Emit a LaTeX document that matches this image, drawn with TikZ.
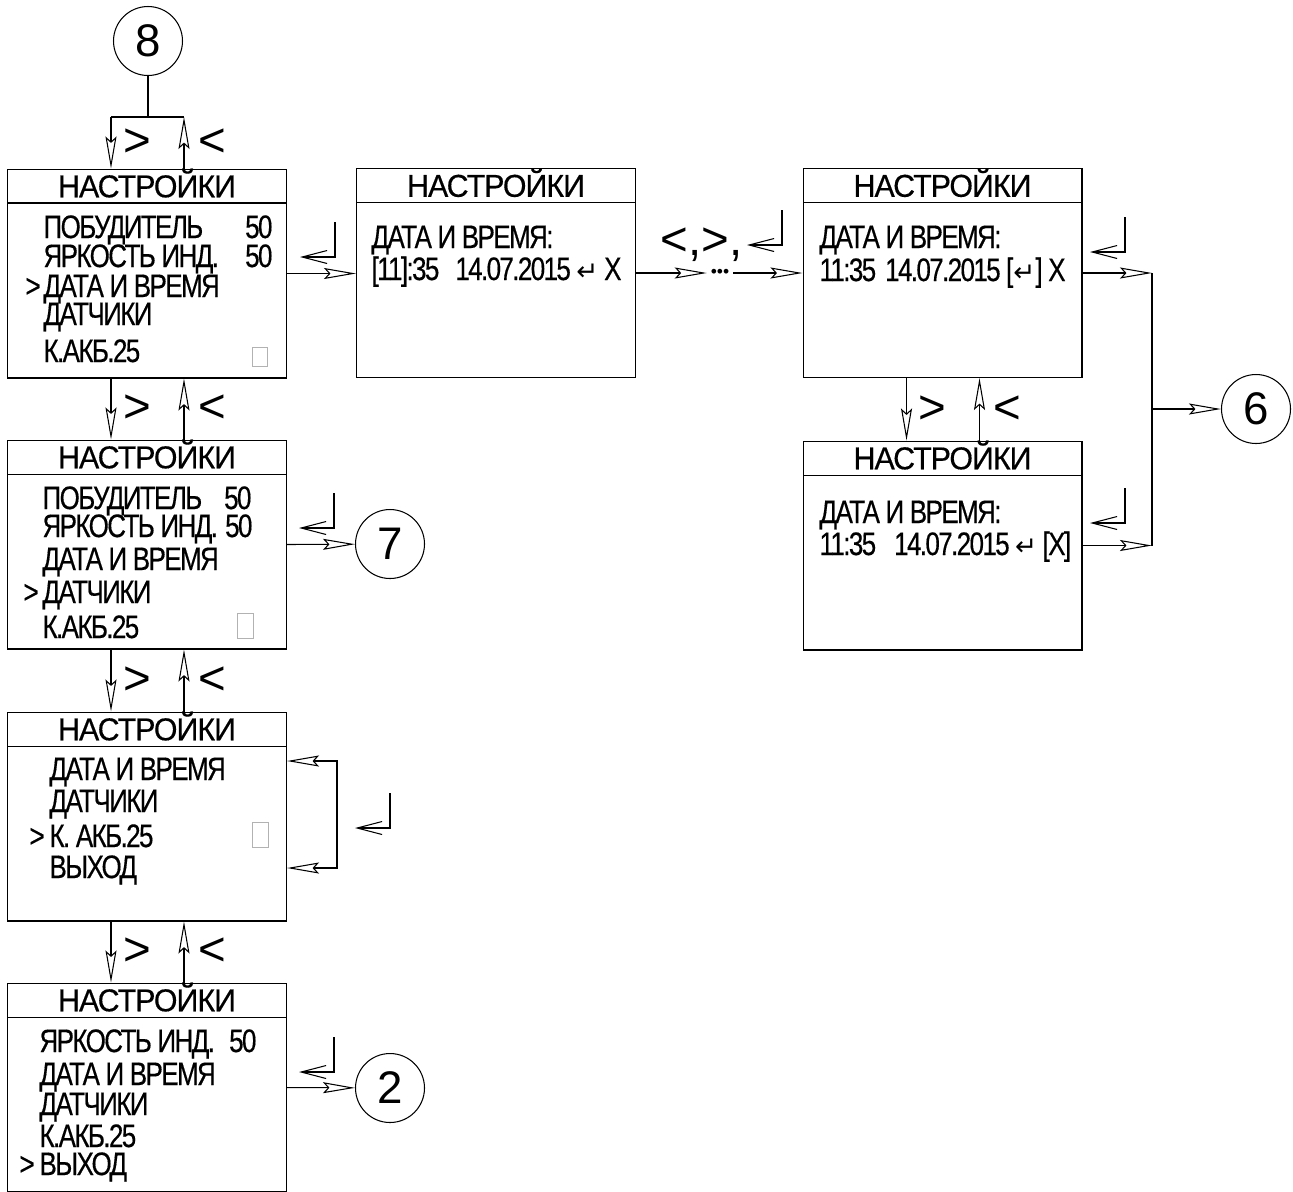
\documentclass[tikz,border=0pt]{standalone}
\usepackage{fontspec}
\setmainfont{Liberation Sans}
\newfontfamily\scrfont[FakeStretch=0.8, LetterSpace=-5, FakeBold=0.4]{Liberation Sans}
\newfontfamily\hdfont[FakeStretch=0.96, LetterSpace=-3, FakeBold=0.4]{Liberation Sans}
\newfontfamily\arrfont{DejaVu Sans}
\usetikzlibrary{arrows.meta,positioning}
\newcommand{\entr}{{\arrfont\fontsize{15}{15}\selectfont ↵}}

\begin{document}
\begin{tikzpicture}[x=0.02cm, y=-0.02cm, line width=0.6pt,
    screen/.style={rectangle, draw, minimum width=5.58cm, minimum height=4.18cm,
                   inner sep=0},
    hdr/.style={rectangle, draw, anchor=north, minimum width=5.58cm,
                minimum height=0.68cm, inner sep=0, text height=0.45cm,
                text depth=0pt, font=\hdfont\fontsize{18}{20}\selectfont},
    row/.style={anchor=base west, inner sep=0,
                font=\scrfont\fontsize{18.5}{20}\selectfont},
    val/.style={row, anchor=base east},
    key/.style={inner sep=0, font=\fontsize{27}{30}\selectfont},
    num/.style={circle, draw, minimum size=1.38cm, inner sep=0,
                font=\fontsize{26}{28}\selectfont},
    nav/.style={-{Stealth[open, length=0.64cm, width=0.22cm, inset=0.1cm]}},
    navboth/.style={{Stealth[open, length=0.64cm, width=0.22cm, inset=0.1cm]}-{Stealth[open, length=0.64cm, width=0.22cm, inset=0.1cm]}},
    ret/.style={-{Straight Barb[length=0.5cm, width=0.26cm]}},
    cursor/.style={draw=gray!60, line width=0.5pt},
    enterkey/.pic={\draw[ret] (0,0) -- (0,35) -- (-35,35);}]

\useasboundingbox (0,0) rectangle (1293,1191);

% screens
\node[screen] (scrA) at (147,273.5) {};
\node[screen] (scrB) at (147,544.5) {};
\node[screen] (scrC) at (147,816.5) {};
\node[screen] (scrD) at (147,1087.5) {};
\node[screen] (scrE) at (496,273) {};
\node[screen] (scrF) at (942.5,273) {};
\node[screen] (scrG) at (942.5,545.5) {};
\foreach \s in {A,B,C,D,E,F,G} {\node[hdr] (hd\s) at (scr\s.north) {НАСТРОЙКИ};}

% screen A
\foreach \y/\t [count=\i] in {238/ПОБУДИТЕЛЬ, 267/ЯРКОСТЬ ИНД., 297/ДАТА И ВРЕМЯ,
                               325/ДАТЧИКИ, 362/К.АКБ.25}
    {\node[row] (rA\i) at (43,\y) {\t};}
\node[row] (mkA) at (25,297) {>};
\node[val] (vA1) at (273,238) {50};
\node[val] (vA2) at (273,267) {50};
\draw[cursor] (252,347) rectangle (267,366);

% screen B
\foreach \y/\t [count=\i] in {509/ПОБУДИТЕЛЬ, 537/ЯРКОСТЬ ИНД., 570/ДАТА И ВРЕМЯ,
                               603/ДАТЧИКИ, 638/К.АКБ.25}
    {\node[row] (rB\i) at (42,\y) {\t};}
\node[row] (mkB) at (23,603) {>};
\node[val] (vB1) at (252,509) {50};
\node[val] (vB2) at (253,537) {50};
\draw[cursor] (237,613) rectangle (253,638);

% screen C
\foreach \y/\t [count=\i] in {780/ДАТА И ВРЕМЯ, 812/ДАТЧИКИ, 847/К. АКБ.25, 878/ВЫХОД}
    {\node[row] (rC\i) at (49,\y) {\t};}
\node[row] (mkC) at (29,847) {>};
\draw[cursor] (252,822) rectangle (268,847);

% screen D
\foreach \y/\t [count=\i] in {1052/ЯРКОСТЬ ИНД., 1085/ДАТА И ВРЕМЯ, 1115/ДАТЧИКИ,
                               1147/К.АКБ.25, 1175/ВЫХОД}
    {\node[row] (rD\i) at (39,\y) {\t};}
\node[row] (mkD) at (19,1175) {>};
\node[val] (vD1) at (257,1052) {50};

% date screens
\node[row] (rE1) at (371,248) {ДАТА И ВРЕМЯ:};
\node[row] (rE2) at (371,280) {[11]:35\hspace{0.32cm}14.07.2015 \entr{} X};
\node[row] (rF1) at (819,248) {ДАТА И ВРЕМЯ:};
\node[row] (rF2) at (819,281) {11:35\hspace{0.18cm}14.07.2015\,[\entr] X};
\node[row] (rG1) at (819,523) {ДАТА И ВРЕМЯ:};
\node[row] (rG2) at (819,555) {11:35\hspace{0.36cm}14.07.2015\,\entr\,[X]};

% circles
\node[num] (c8) at (148,41) {8};
\node[num] (c7) at (390,544) {7};
\node[num] (c2) at (390,1088) {2};
\node[num] (c6) at (1256,409) {6};

% top entry
\coordinate (j8) at (148,117);
\coordinate (jL) at (111,117);
\coordinate (jR) at (184,117);
\draw (c8) -- (j8);
\draw (jL) -- (jR);
\draw[nav] (jL) -- (jL |- scrA.north) node[key, midway, xshift=0.52cm] (gt8) {>};
\draw[nav] (jR |- scrA.north) -- (jR) node[key, midway, xshift=0.56cm] (lt8) {<};

% up / down between screens
\foreach \u/\l in {scrA/scrB, scrB/scrC, scrC/scrD, scrF/scrG} {
  \draw[nav] ([xshift=-0.72cm]\u.south) -- ([xshift=-0.72cm]\l.north)
      node[key, midway, xshift=0.52cm] (gt\u) {>};
  \draw[nav] ([xshift=0.74cm]\l.north) -- ([xshift=0.74cm]\u.south)
      node[key, midway, xshift=0.56cm] (lt\u) {<};
}

% enter
\draw[nav] (scrA.east) -- (scrA.east -| scrE.west);
\node[inner sep=2pt, font=\fontsize{10}{10}\selectfont] (dots) at (720,273) {•••};
\draw[nav] (scrE.east) -- (dots.west);
\draw[nav] (dots.east) -- (scrF.west);
\node[key, anchor=base west] (keysEF) at (660,255) {<,>,};

\coordinate (j6) at (1152,409);
\draw[nav] (scrF.east) -- (scrF.east -| j6);
\draw[nav] (scrG.east) -- (scrG.east -| j6);
\draw (scrF.east -| j6) -- (scrG.east -| j6);
\draw[nav] (j6) -- (c6);

\draw[nav] (scrB.east) -- (c7);
\draw[nav] (scrD.east) -- (c2);

\coordinate (lpT) at (337,761);
\coordinate (lpB) at (337,868);
\draw[navboth] (scrC.east |- lpT) -- (lpT) -- (lpB) -- (scrC.east |- lpB);

% enter key marks
\pic (entAE) at (335,222) {enterkey};
\pic (entEF) at (782,210) {enterkey};
\pic (entF) at (1125,217) {enterkey};
\pic (entG) at (1125,488) {enterkey};
\pic (entB) at (334,493) {enterkey};
\pic (entC) at (390,793) {enterkey};
\pic (entD) at (334,1037) {enterkey};
\end{tikzpicture}
\end{document}
